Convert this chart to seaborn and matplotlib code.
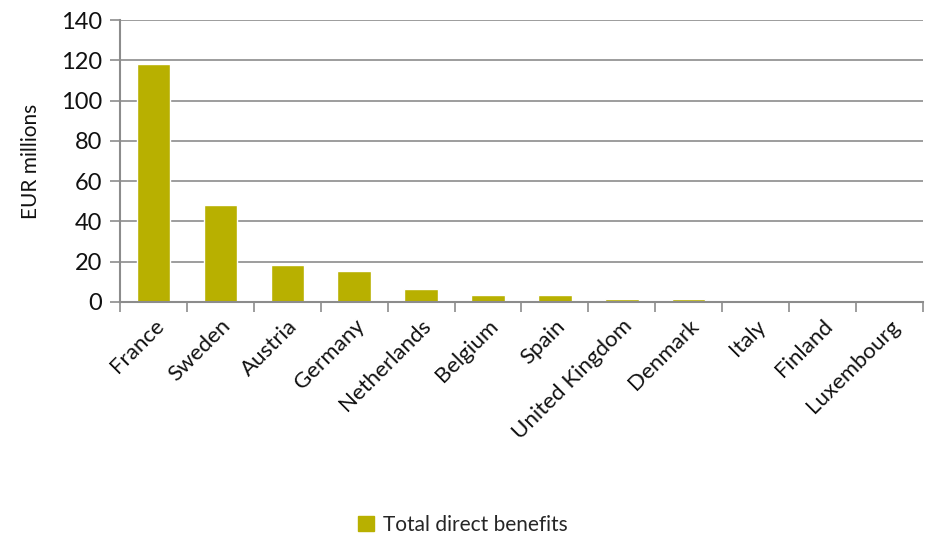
import matplotlib
matplotlib.use("Agg")
import matplotlib.pyplot as plt
import seaborn as sns
import pandas as pd
import numpy as np

countries = ["France", "Sweden", "Austria", "Germany", "Netherlands", "Belgium",
             "Spain", "United Kingdom", "Denmark", "Italy", "Finland", "Luxembourg"]
values = [118, 48, 18.4, 15.4, 6.5, 3.5, 3.5, 1.5, 1.5, 0.2, 0.2, 0.2]
series_name = "Total direct benefits"
yticks = [0, 20, 40, 60, 80, 100, 120, 140]

sns.set_theme(style="white")
plt.rcParams['font.family'] = ['Lato', 'DejaVu Sans']

df = pd.DataFrame({"country": countries, "value": values, "series": series_name})

fig = plt.figure(figsize=(9.25, 5.41), dpi=100)
ax = fig.add_axes([0.1297, 0.442, 0.868, 0.521])
color = "#B8B000"
sns.barplot(data=df, x="country", y="value", hue="series", palette=[color],
            width=0.5, ax=ax, saturation=1, legend=True)

ax.set_ylim(0, 140)
ax.set_xlim(-0.5, len(countries) - 0.5)
ax.set_yticks(yticks)
ax.set_yticklabels([str(t) for t in yticks], fontsize=17, color="#111111")
ax.yaxis.grid(True, color="#8c8c8c", linewidth=1.2)
ax.set_axisbelow(True)
ax.set_ylabel("EUR millions", fontsize=15, color="#111111", labelpad=14)
ax.set_xlabel("")

ax.set_xticks(np.arange(len(countries)))
ax.set_xticklabels(countries, rotation=45, ha="right", rotation_mode="anchor",
                   fontsize=16, color="#111111")
ax.tick_params(axis="x", length=0, pad=10)
ax.set_xticks(np.arange(len(countries) + 1) - 0.5, minor=True)
ax.tick_params(axis="x", which="minor", length=7, width=1.2, color="#8c8c8c", direction="out", bottom=True)
ax.tick_params(axis="y", length=7, width=1.2, color="#8c8c8c", direction="out", left=True, pad=6)

for s in ["top", "right"]:
    ax.spines[s].set_visible(False)
for s in ["left", "bottom"]:
    ax.spines[s].set_color("#8c8c8c")
    ax.spines[s].set_linewidth(1.5)

ax.legend_.remove()
handles = [plt.Rectangle((0, 0), 1, 1, color=color)]
fig.legend(handles, [series_name], loc="center", bbox_to_anchor=(0.5, 0.03),
           frameon=False, fontsize=15, handlelength=0.8, handleheight=0.8,
           handletextpad=0.4, prop={"size": 15})

fig.savefig("out.png", dpi=100)
